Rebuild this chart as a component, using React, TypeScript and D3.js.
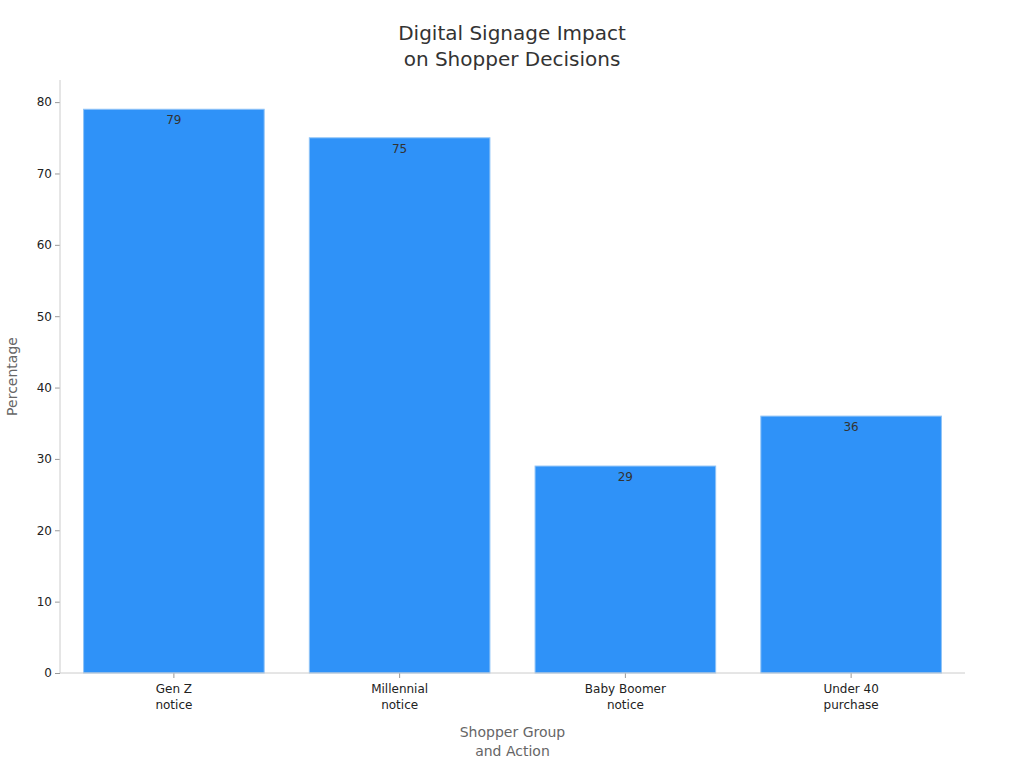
import React, { useEffect, useRef } from 'react';
import { axisBottom, axisLeft, scaleBand, scaleLinear, select } from 'd3';

const categories = ['Gen Z\nnotice', 'Millennial\nnotice', 'Baby Boomer\nnotice', 'Under 40\npurchase'];
const values = [79, 75, 29, 36];
const yTicks = [0, 10, 20, 30, 40, 50, 60, 70, 80];

const width = 1024;
const height = 768;
const margin = { top: 80, right: 61, bottom: 95, left: 60 };
const font = 'DejaVu Sans, sans-serif';

const App: React.FC = () => {
  const svgRef = useRef<SVGSVGElement>(null);

  useEffect(() => {
    const svg = select(svgRef.current);
    svg.selectAll('*').remove();
    const innerW = width - margin.left - margin.right;
    const innerH = height - margin.top - margin.bottom;

    const xScale = scaleBand<string>()
      .domain(categories)
      .range([1, innerW + 1])
      .paddingInner(0.2)
      .paddingOuter(0.1);
    const yScale = scaleLinear().domain([0, 83.1]).range([innerH, 0]);

    const g = svg.append('g').attr('transform', `translate(${margin.left},${margin.top})`);

    // Bars
    g.selectAll('.bar')
      .data(values)
      .join('rect')
      .attr('class', 'bar')
      .attr('x', (_, i) => xScale(categories[i]) as number)
      .attr('y', (d) => yScale(d))
      .attr('width', xScale.bandwidth())
      .attr('height', (d) => innerH - yScale(d))
      .attr('fill', '#2f92f8')
      .attr('stroke', '#8fc3f7')
      .attr('stroke-width', 1);

    // Value labels
    g.selectAll('.value')
      .data(values)
      .join('text')
      .attr('class', 'value')
      .attr('x', (_, i) => (xScale(categories[i]) as number) + xScale.bandwidth() / 2)
      .attr('y', (d) => yScale(d) + 15)
      .attr('text-anchor', 'middle')
      .attr('fill', '#333')
      .style('font-size', '12px')
      .text((d) => d);

    // Axes
    const yAxis = g
      .append('g')
      .attr('font-family', font)
      .call(axisLeft(yScale).tickValues(yTicks).tickSize(5).tickPadding(3));
    yAxis.attr('font-family', font);
    yAxis.select('.domain').remove();
    yAxis.selectAll('.tick line').attr('stroke', '#999');
    yAxis.selectAll('.tick text').attr('fill', '#222').style('font-size', '12px');
    g.append('line')
      .attr('x1', 0)
      .attr('x2', 0)
      .attr('y1', 0)
      .attr('y2', innerH)
      .attr('stroke', '#ccc');

    const xAxis = g
      .append('g')
      .attr('transform', `translate(0,${innerH})`)
      .call(axisBottom(xScale).tickSize(5).tickPadding(6));
    xAxis.attr('font-family', font);
    xAxis.select('.domain').remove();
    xAxis.selectAll('.tick line').attr('stroke', '#999');
    xAxis.selectAll<SVGTextElement, string>('.tick text').each(function (d) {
      const t = select(this);
      t.text(null).attr('fill', '#222').style('font-size', '12px');
      d.split('\n').forEach((part, i) => {
        t.append('tspan').attr('x', 0).attr('dy', i === 0 ? '0.71em' : '1.35em').text(part);
      });
    });
    g.append('line')
      .attr('x1', 0)
      .attr('x2', innerW + 2)
      .attr('y1', innerH)
      .attr('y2', innerH)
      .attr('stroke', '#ccc');

    // Titles
    const title = svg
      .append('text')
      .attr('x', width / 2)
      .attr('text-anchor', 'middle')
      .attr('fill', '#333')
      .style('font-size', '20px');
    title.append('tspan').attr('x', width / 2).attr('y', 40).text('Digital Signage Impact');
    title.append('tspan').attr('x', width / 2).attr('y', 66).text('on Shopper Decisions');

    const xTitle = svg
      .append('text')
      .attr('text-anchor', 'middle')
      .attr('fill', '#666')
      .style('font-size', '14px');
    xTitle.append('tspan').attr('x', margin.left + innerW / 2 + 1).attr('y', 737).text('Shopper Group');
    xTitle.append('tspan').attr('x', margin.left + innerW / 2 + 1).attr('y', 756).text('and Action');

    svg
      .append('text')
      .attr('transform', `translate(17,${margin.top + innerH / 2}) rotate(-90)`)
      .attr('text-anchor', 'middle')
      .attr('fill', '#666')
      .style('font-size', '14px')
      .text('Percentage');
  }, []);

  return (
    <svg
      ref={svgRef}
      width={width}
      height={height}
      style={{ position: 'absolute', left: 0, top: 0, fontFamily: font, background: '#fff' }}
    />
  );
};

export default App;
